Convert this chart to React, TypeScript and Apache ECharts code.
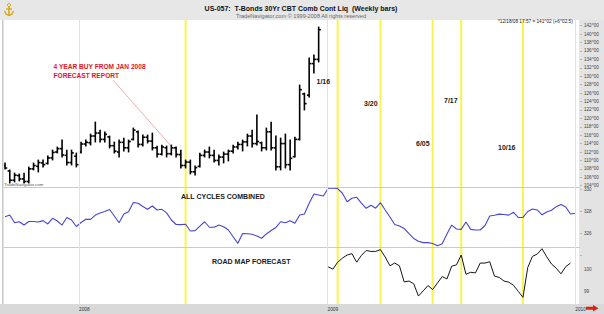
import React, { useEffect, useRef } from 'react';
import * as echarts from 'echarts';

const DAY = 86400000;
const WEEK0 = Date.UTC(2007, 8, 14);
const X_MIN = Date.UTC(2007, 8, 11);
const X_MAX = Date.UTC(2010, 0, 8);

const priceOpen = [108.8,107.5,105.3,106.4,105.6,105.0,108.0,108.6,109.4,109.3,110.6,112.0,112.8,111.2,109.5,111.0,112.0,113.9,114.2,115.8,116.5,115.0,115.6,113.5,112.0,114.3,113.0,115.0,116.8,113.8,115.5,114.6,113.0,111.5,113.0,111.6,113.0,111.4,108.8,109.6,107.3,108.6,111.2,112.0,111.2,110.0,110.8,111.5,112.2,113.2,113.8,114.4,115.8,114.0,114.2,113.0,116.8,113.0,108.5,114.0,109.0,110.9,115.0,125.8,125.5,133.0,134.0];
const priceHigh = [109.39,107.73,107.01,106.78,107.01,108.44,109.39,110.10,110.10,111.05,112.47,113.19,114.85,112.47,112.47,111.76,114.37,114.85,116.27,119.12,117.22,116.75,115.80,114.37,114.85,115.32,114.85,117.70,116.99,116.04,116.04,116.51,113.42,113.66,113.42,113.66,113.19,112.47,110.10,110.10,108.68,111.76,112.47,113.19,112.47,111.29,112.00,112.47,113.66,114.37,114.85,116.27,117.22,120.79,114.37,117.70,119.12,115.80,115.32,116.27,114.85,115.56,127.91,126.01,134.33,135.04,141.69];
const priceLow = [107.96,104.64,104.88,105.12,104.64,104.64,107.73,107.25,108.44,109.15,110.10,111.76,110.81,108.91,108.91,108.44,111.76,113.42,113.66,114.37,114.37,114.37,112.95,111.76,110.81,112.24,112.00,114.85,113.19,113.42,114.14,112.47,110.81,111.29,110.81,111.29,110.81,108.20,108.20,106.78,106.54,108.44,110.81,110.57,109.62,108.91,109.39,109.86,111.76,112.71,112.24,113.42,113.19,113.66,112.24,112.47,112.47,107.73,107.73,108.20,107.73,110.81,114.85,121.98,125.06,130.76,133.38];
const priceClose = [108.2,105.3,106.5,105.6,105.0,108.0,108.8,109.5,109.0,110.6,111.9,112.8,111.3,109.5,111.8,109.0,113.9,114.3,115.8,116.5,115.0,116.2,113.5,112.2,114.3,113.0,114.5,117.2,113.8,115.5,114.6,113.0,111.5,113.2,111.6,113.0,111.4,108.8,109.6,107.3,108.3,111.2,112.0,111.2,110.0,110.8,111.5,112.2,113.2,113.8,114.4,115.8,114.0,114.5,113.0,116.8,113.0,108.5,114.0,109.0,110.5,115.0,126.8,123.5,133.0,134.0,141.06];

const cyclesCombined = [
  327.51,327.66,326.96,327.05,326.75,327.07,327.07,327.03,327.15,326.85,
  327.36,327.12,326.75,327.44,327.21,326.62,326.98,327.27,327.27,327.66,
  327.85,327.98,328.16,327.57,326.96,327.75,327.96,328.8,328.73,328.44,
  328.18,328.48,328.12,328.18,327.86,327.21,326.8,326.79,326.82,326.21,
  326.24,326.66,327.05,326.55,326.55,326.75,326.6,326.3,325.69,325.09,
  325.98,325.96,325.91,325.75,325.55,325.94,326.25,326.53,327.05,326.96,
  327.15,326.91,327.66,327.75,328.73,329.57,329.48,329.39,330.09,330.09,
  330.07,329.64,328.87,329.18,329.27,328.75,328.27,328.55,328.28,328.78,
  328.12,327.48,326.8,326.66,326.44,325.98,325.53,325.27,325.15,325.15,
  325.07,324.87,325.05,325.94,326.75,326.39,326.36,327.03,326.36,326.3,
  326.3,326.71,327.57,327.64,327.74,327.71,327.65,327.91,327.45,327.44,
  327.98,328.21,328.12,327.68,327.94,328.1,328.42,328.62,328.39,327.75,327.82
];

const roadMapStartWeek = 68;
const roadMap = [
  100.10,100.00,100.31,100.49,100.63,100.69,100.31,100.61,100.83,100.79,
  100.79,100.87,100.54,100.15,100.27,100.15,99.43,99.47,99.35,98.80,
  99.03,99.27,99.09,99.38,99.67,99.56,100.13,100.19,100.63,99.77,
  99.86,99.83,100.27,100.27,100.33,99.69,99.63,99.47,99.42,99.28,
  99.01,98.74,100.07,100.57,100.67,100.91,100.55,100.23,100.04,99.79,100.11,100.27
];

const cycleDates = ['2008-06-06', '2009-01-16', '2009-03-20', '2009-06-05', '2009-07-17', '2009-10-16'];
const cycleLabels = ['1/16', '3/20', '6/05', '7/17', '10/16'];
const connectorDates = ['2008-02-20', '2008-05-31'];
const connectorPrices = [129.1, 110.6];

const weekDate = (i: number) => WEEK0 + i * 7 * DAY;

const FONT = "'Liberation Sans', Arial, sans-serif";

export default function App() {
  const ref = useRef<HTMLDivElement>(null);
  useEffect(() => {
    if (!ref.current) return;
    const chart = echarts.init(ref.current, undefined, { renderer: 'svg' });
    const L = 3, R = 24;
    const timeAxisBase = { type: 'time', min: X_MIN, max: X_MAX };
    const yLabel = { fontSize: 4.6, color: '#444', fontFamily: FONT, margin: 4 };
    const yTick = { show: true, length: 2, lineStyle: { color: '#999', width: 0.6 } };

    const txt = (text: string, x: number, y: number, font: string, fill: string, align = 'left') => ({
      type: 'text', z: 100, style: { text, x, y, font, fill, align, verticalAlign: 'middle' },
    });
    const labelPos = [[316.5, 81], [364, 103], [416, 143], [444, 100], [498, 147]];

    const option: any = {
      animation: false,
      useUTC: true,
      backgroundColor: '#ffffff',
      grid: [
        { left: L, right: R, top: 20, bottom: 10 },
        { left: L, right: R, top: 25.7, height: 160 },
        { left: L, right: R, top: 189.3, height: 66 },
        { left: L, right: R, top: 246.7, height: 75 },
      ],
      xAxis: [
        {
          ...timeAxisBase, gridIndex: 0, z: 10,
          minInterval: 365 * DAY,
          axisLine: { show: false }, axisTick: { show: false },
          splitLine: { show: true, lineStyle: { color: '#e2e2e2', width: 1 } },
          axisLabel: {
            show: true, fontSize: 4.8, color: '#333', fontFamily: FONT, margin: 2.5, align: 'left',
            showMinLabel: false, showMaxLabel: false,
            formatter: (v: number) => {
              const d = new Date(v);
              return d.getUTCMonth() === 0 && d.getUTCDate() === 1 ? String(d.getUTCFullYear()) : '';
            },
          },
        },
        { ...timeAxisBase, gridIndex: 1, show: false },
        { ...timeAxisBase, gridIndex: 2, show: false },
        { ...timeAxisBase, gridIndex: 3, show: false },
      ],
      yAxis: [
        { type: 'value', gridIndex: 0, min: 0, max: 1, show: false },
        {
          type: 'value', gridIndex: 1, position: 'right', min: 104, max: 142, interval: 2, z: 10,
          axisLine: { show: false }, axisTick: yTick, splitLine: { show: false },
          axisLabel: { ...yLabel, formatter: (v: number) => v + '^00' },
        },
        {
          type: 'value', gridIndex: 2, position: 'right', min: 324, max: 330, interval: 2, z: 10,
          axisLine: { show: false }, axisTick: yTick, splitLine: { show: false },
          axisLabel: { ...yLabel, formatter: (v: number) => (v >= 326 ? String(v) : '') },
        },
        {
          type: 'value', gridIndex: 3, position: 'right', min: 98, max: 101, interval: 1, z: 10,
          axisLine: { show: false }, axisTick: { show: false }, splitLine: { show: false },
          axisLabel: { ...yLabel, formatter: (v: number) => (v === 99 || v === 100 ? String(v) : '') },
        },
      ],
      series: [
        {
          type: 'custom', xAxisIndex: 0, yAxisIndex: 0, z: 1, silent: true,
          data: cycleDates.map((d) => [Date.parse(d), 0]),
          encode: { x: 0, y: 1 },
          renderItem: (params: any, api: any) => {
            const p = api.coord([api.value(0), 0]);
            const cs = params.coordSys;
            return {
              type: 'line',
              shape: { x1: p[0], y1: cs.y, x2: p[0], y2: cs.y + cs.height },
              style: { stroke: '#f9f54e', lineWidth: 2 },
            };
          },
        },
        {
          type: 'custom', xAxisIndex: 1, yAxisIndex: 1, z: 3, clip: false,
          data: priceOpen.map((o, i) => [weekDate(i), o, priceHigh[i], priceLow[i], priceClose[i]]),
          encode: { x: 0, y: [1, 2, 3, 4] },
          renderItem: (params: any, api: any) => {
            const t = api.value(0);
            const o = api.coord([t, api.value(1)]);
            const h = api.coord([t, api.value(2)]);
            const l = api.coord([t, api.value(3)]);
            const c = api.coord([t, api.value(4)]);
            const st = { stroke: '#000', lineWidth: 1.6 };
            return {
              type: 'group',
              children: [
                { type: 'line', shape: { x1: h[0], y1: h[1] - 0.4, x2: l[0], y2: l[1] + 0.4 }, style: st },
                { type: 'line', shape: { x1: o[0] - 2.2, y1: o[1], x2: o[0], y2: o[1] }, style: st },
                { type: 'line', shape: { x1: c[0], y1: c[1], x2: c[0] + 2.2, y2: c[1] }, style: st },
              ],
            };
          },
        },
        {
          type: 'line', xAxisIndex: 1, yAxisIndex: 1, z: 2, silent: true,
          data: connectorDates.map((d, i) => [Date.parse(d), connectorPrices[i]]),
          showSymbol: false, symbol: 'none',
          lineStyle: { color: '#e88a8a', width: 0.7 },
        },
        {
          type: 'line', xAxisIndex: 2, yAxisIndex: 2, z: 3, clip: false,
          data: cyclesCombined.map((v, i) => [weekDate(i), v]),
          showSymbol: false, symbol: 'none',
          lineStyle: { color: '#4646d2', width: 1.1 },
        },
        {
          type: 'line', xAxisIndex: 3, yAxisIndex: 3, z: 3, clip: false,
          data: roadMap.map((v, k) => [weekDate(roadMapStartWeek + k), v]),
          showSymbol: false, symbol: 'none',
          lineStyle: { color: '#161616', width: 1 },
        },
      ],
      graphic: [
        { type: 'rect', z: -1, shape: { x: 0, y: 0, width: 604, height: 20 }, style: { fill: '#e7e7e7' } },
        { type: 'rect', z: -1, shape: { x: 580, y: 20, width: 24, height: 294 }, style: { fill: '#e3e3e3' } },
        { type: 'rect', z: -1, shape: { x: 0, y: 304, width: 604, height: 10 }, style: { fill: '#d9d9d9' } },
        { type: 'line', z: 5, shape: { x1: 2.5, y1: 20, x2: 2.5, y2: 304 }, style: { stroke: '#c8c8c8', lineWidth: 1 } },
        { type: 'line', z: 5, shape: { x1: 580, y1: 20, x2: 580, y2: 304 }, style: { stroke: '#cfcfcf', lineWidth: 1 } },
        { type: 'line', z: 5, shape: { x1: 3, y1: 187.5, x2: 580, y2: 187.5 }, style: { stroke: '#cacaca', lineWidth: 1 } },
        { type: 'line', z: 5, shape: { x1: 3, y1: 247.5, x2: 580, y2: 247.5 }, style: { stroke: '#cacaca', lineWidth: 1 } },
        {
          type: 'polygon', z: 100,
          shape: { points: [[586, 306.8], [593, 306.8], [593, 305], [598.5, 308.3], [593, 311.6], [593, 309.8], [586, 309.8]] },
          style: { fill: '#e02010' },
        },
        // logo
        { type: 'circle', z: 100, shape: { cx: 9, cy: 5, r: 1.6 }, style: { fill: 'none', stroke: '#d8a200', lineWidth: 1 } },
        { type: 'line', z: 100, shape: { x1: 9, y1: 6.5, x2: 9, y2: 15 }, style: { stroke: '#d8a200', lineWidth: 1.4 } },
        { type: 'line', z: 100, shape: { x1: 6, y1: 9, x2: 12, y2: 9 }, style: { stroke: '#d8a200', lineWidth: 1.2 } },
        { type: 'polyline', z: 100, shape: { points: [[4.5, 11], [6, 14], [9, 15.5], [12, 14], [13.5, 11]] }, style: { fill: 'none', stroke: '#d8a200', lineWidth: 1.3 } },
        txt('US-057:  T-Bonds 30Yr CBT Comb Cont Liq  (Weekly bars)', 301, 8.5, `bold 7px ${FONT}`, '#111', 'center'),
        txt('TradeNavigator.com © 1999-2008 All rights reserved', 301, 16, `5.6px ${FONT}`, '#666', 'center'),
        txt('*12/18/08 17:57 = 141^02 (+6^02.5)', 498, 21.5, `4.7px ${FONT}`, '#222'),
        txt('4 YEAR BUY FROM JAN 2008', 53.5, 66.5, `bold 6.6px ${FONT}`, '#e8141c'),
        txt('FORECAST REPORT', 53.5, 75.5, `bold 6.6px ${FONT}`, '#e8141c'),
        txt('ALL CYCLES COMBINED', 181, 196.5, `bold 7px ${FONT}`, '#1a1a1a'),
        txt('ROAD MAP FORECAST', 212, 261, `bold 7px ${FONT}`, '#1a1a1a'),
        txt('TradeNavigator.com', 4, 184.5, `4.4px ${FONT}`, '#555'),
        ...cycleLabels.map((t, i) => txt(t, labelPos[i][0], labelPos[i][1], `bold 7px ${FONT}`, '#1a1a1a')),
      ],
    };
    chart.setOption(option);
    return () => chart.dispose();
  }, []);
  return <div ref={ref} style={{ position: 'absolute', left: 0, top: 0, width: 604, height: 314 }} />;
}
